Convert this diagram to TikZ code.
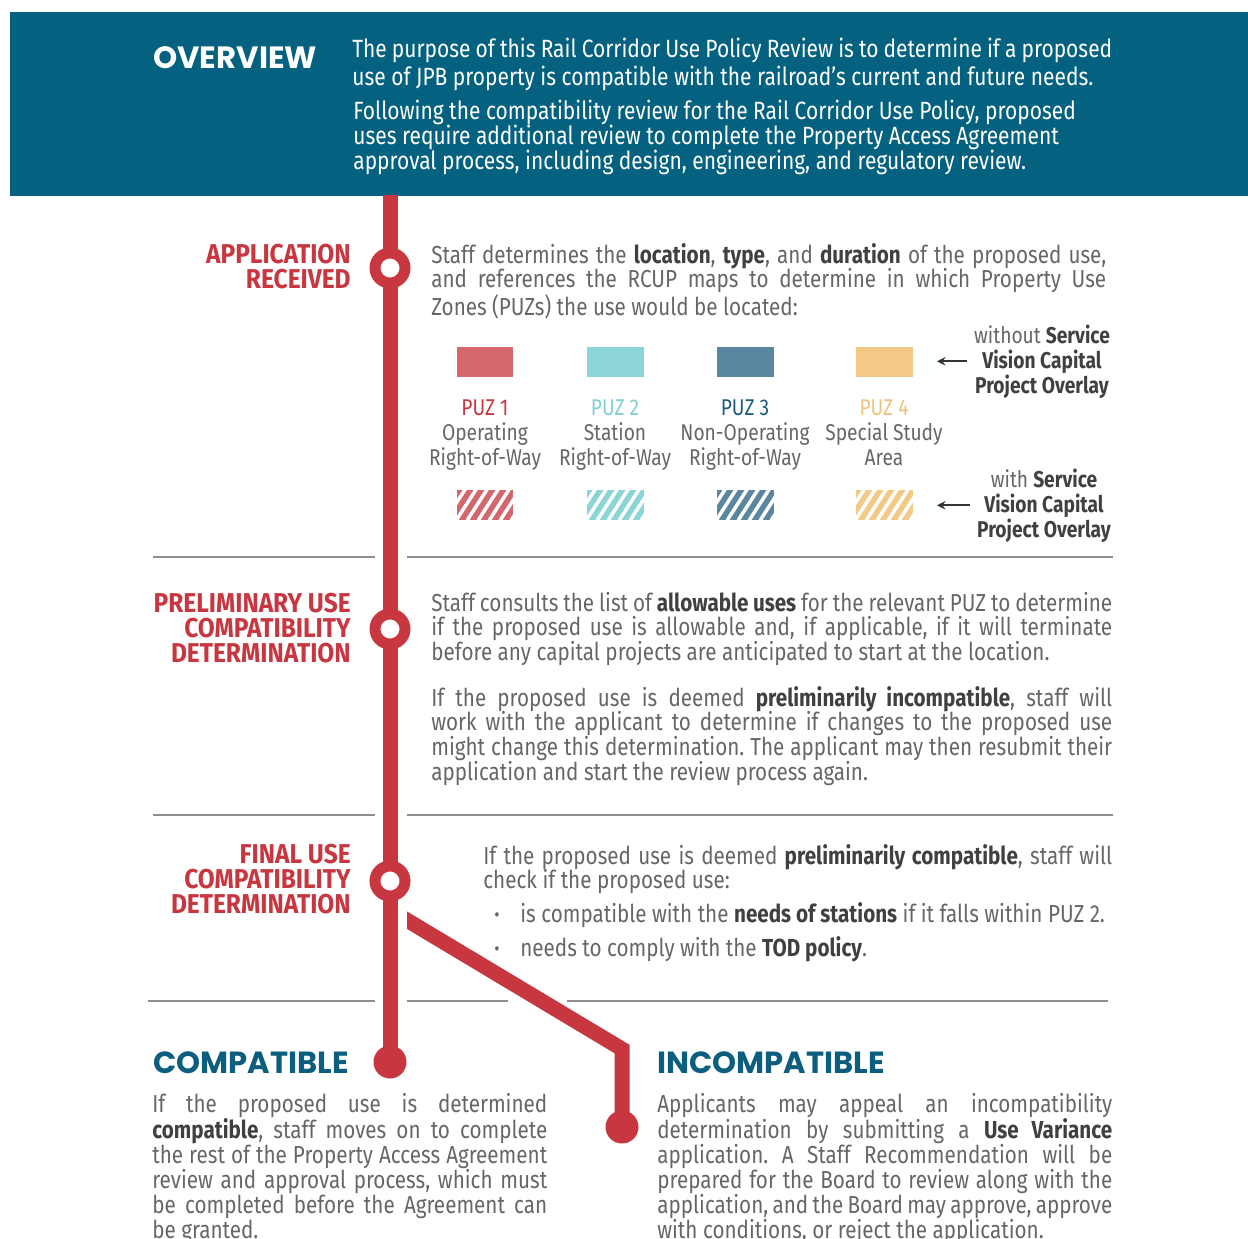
\documentclass[tikz,border=0pt]{standalone}
\usepackage{fontspec}
\setmainfont{Fira Sans}[FakeStretch=0.84]
\newfontfamily\stagefont{Fira Sans}[FakeStretch=0.9]
\newfontfamily\headfont{Poppins}
\definecolor{bandteal}{HTML}{04617F}
\definecolor{headteal}{HTML}{0B5E7D}
\definecolor{railred}{HTML}{C8363F}
\definecolor{bodygray}{HTML}{666666}
\definecolor{boldgray}{HTML}{404040}
\definecolor{sepgray}{HTML}{8F8F8F}
\definecolor{puz1}{HTML}{D4666D}
\definecolor{puz2}{HTML}{8BD5D9}
\definecolor{puz3}{HTML}{5A879F}
\definecolor{puz4}{HTML}{F2CA85}
\definecolor{puz1text}{HTML}{C8363F}
\definecolor{puz2text}{HTML}{7ECFD4}
\definecolor{puz3text}{HTML}{1D5D7C}
\definecolor{puz4text}{HTML}{F0C37C}
\usetikzlibrary{arrows, positioning}
\frenchspacing
\lineskiplimit=-10pt

\begin{document}
\begin{tikzpicture}[x=0.02cm, y=-0.02cm,
	rail/.style={railred, line width=0.3cm, line join=miter},
	ring/.style={circle, draw=railred, fill=white, line width=0.22cm, minimum size=0.6cm, inner sep=0pt},
	enddot/.style={circle, fill=railred, minimum size=0.66cm, inner sep=0pt},
	sep/.style={sepgray, line width=0.05cm},
	body/.style={text=bodygray, inner sep=0pt, font=\fontsize{14}{14.2}\selectfont},
	legend/.style={body, anchor=base, align=center, font=\fontsize{13}{14.2}\selectfont},
	stage/.style={text=railred, inner sep=0pt, align=right, anchor=base east, font=\stagefont\fontsize{15.5}{14.2}\selectfont\bfseries},
	outcome/.style={text=headteal, inner sep=0pt, anchor=base west, font=\headfont\fontsize{17.4}{20}\selectfont\bfseries},
	swatch/.style={minimum width=1.14cm, minimum height=0.6cm, inner sep=0pt},
	stripe/.style={white, line width=0.07cm},
	legend arrow/.style={->, >=stealth, black!80, line width=0.04cm}]

\newcommand{\hl}[1]{{\bfseries\color{boldgray}#1}}

\useasboundingbox (0,0) rectangle (1248,1238);

% overview band
\fill[bandteal] (10,12) rectangle (1248,196);
\node[anchor=base west, inner sep=0pt, text=white, font=\headfont\fontsize{17.5}{20}\selectfont\bfseries] (overview) at (153,68) {OVERVIEW};
\node[anchor=base west, inner sep=0pt, text=white, text width=15.2cm, align=justify, font=\fontsize{14.2}{16.5}\selectfont] (purpose) at (352,57)
	{\parfillskip=0pt The purpose of this Rail Corridor Use Policy Review is to determine if a proposed\linebreak use of JPB property is compatible with the railroad's current and future needs.};
\node[anchor=base west, inner sep=0pt, text=white, align=left, font=\fontsize{14.2}{14.2}\selectfont] (following) at (353,169)
	{Following the compatibility review for the Rail Corridor Use Policy, proposed\\uses require additional review to complete the Property Access Agreement\\approval process, including design, engineering, and regulatory review.};

% separators
\foreach \y in {557, 815} {
	\draw[sep] (153,\y) -- (375,\y);
	\draw[sep] (407,\y) -- (1113,\y);
}
\draw[sep] (148,1001) -- (375,1001);
\draw[sep] (407,1001) -- (508,1001);
\draw[sep] (567,1001) -- (1108,1001);

% rail
\coordinate (rail top) at (390,195);
\coordinate (branch start) at (395,913);
\coordinate (branch bend) at (622,1049);
\node[enddot] (compat dot) at (390,1062) {};
\node[enddot] (incompat dot) at (622,1127) {};
\draw[rail] (rail top) -- (compat dot.center);
\begin{scope}
	\clip (407,880) rectangle (700,1140);
	\draw[rail] (branch start) -- (branch bend) -- (incompat dot.center);
\end{scope}
\node[ring] (app ring) at (390,268) {};
\node[ring] (prelim ring) at (390,629) {};
\node[ring] (final ring) at (390,881) {};

% stage headings (base = last line)
\node[stage] (app head) at (351,288) {APPLICATION\\RECEIVED};
\node[stage] (prelim head) at (351,662) {PRELIMINARY USE\\COMPATIBILITY\\DETERMINATION};
\node[stage] (final head) at (351,913) {FINAL USE\\COMPATIBILITY\\DETERMINATION};

% application received
\node[body, anchor=base west, text width=13.5cm, align=justify] (app text) at (431,263)
	{Staff determines the \hl{location}, \hl{type}, and \hl{duration} of the proposed use,\linebreak and references the RCUP maps to determine in which Property Use\linebreak Zones (PUZs) the use would be located:};

\foreach \xc/\num/\lineA/\lineB in {485/1/Operating/Right-of-Way, 615/2/Station/Right-of-Way, 745/3/Non-Operating/Right-of-Way, 884/4/Special Study/Area} {
	\node[swatch, fill=puz\num] (plain \num) at (\xc,362) {};
	\node[legend] (label \num) at (\xc,465) {\textcolor{puz\num text}{PUZ \num}\\\lineA\\\lineB};
	\node[swatch, fill=puz\num] (hatch \num) at (\xc,505) {};
	\begin{scope}
		\clip (hatch \num.south west) rectangle (hatch \num.north east);
		\foreach \s in {-22,-11,...,66}
			\draw[stripe] ([xshift=\s*0.02cm]hatch \num.south west) -- ++(20,-31);
	\end{scope}
}

\node[legend] (without) at (1042,393) {without \hl{Service}\\\hl{Vision Capital}\\\hl{Project Overlay}};
\node[legend] (with) at (1044,537) {with \hl{Service}\\\hl{Vision Capital}\\\hl{Project Overlay}};
\coordinate (without tip) at (937,362);
\coordinate (with tip) at (937,506);
\draw[legend arrow] ([xshift=-0.14cm]without.west) -- (without.west -| without tip);
\draw[legend arrow] ([xshift=-0.14cm]with.west) -- (with.west -| with tip);

% preliminary use
\node[body, anchor=base west, text width=13.62cm, align=justify] (prelim text) at (431,611)
	{Staff consults the list of \hl{allowable uses} for the relevant PUZ to determine\linebreak if the proposed use is allowable and, if applicable, if it will terminate\linebreak before any capital projects are anticipated to start at the location.};
\node[body, anchor=base west, text width=13.62cm, align=justify] (prelim more) at (431,706)
	{If the proposed use is deemed \hl{preliminarily incompatible}, staff will\linebreak work with the applicant to determine if changes to the proposed use\linebreak might change this determination. The applicant may then resubmit their\linebreak application and start the review process again.};

% final use
\node[body, anchor=base west, text width=12.58cm, align=justify] (final text) at (483,864)
	{If the proposed use is deemed \hl{preliminarily compatible}, staff will\linebreak check if the proposed use:};
\node[body, anchor=base, font=\fontsize{11}{10}\selectfont] (bullet a) at (497,921) {\textbullet};
\node[body, anchor=base west] (item a) at (520,922) {is compatible with the \hl{needs of stations} if it falls within PUZ 2.};
\node[body, anchor=base, font=\fontsize{11}{10}\selectfont] (bullet b) at (497,955) {\textbullet};
\node[body, anchor=base west] (item b) at (520,956) {needs to comply with the \hl{TOD policy}.};

% outcomes
\node[outcome] (compat head) at (153,1073) {COMPATIBLE};
\node[body, anchor=base west, text width=7.9cm, align=justify] (compat text) at (152,1112)
	{If the proposed use is determined\linebreak \hl{compatible}, staff moves on to complete\linebreak the rest of the Property Access Agreement\linebreak review and approval process, which must\linebreak be completed before the Agreement can\linebreak be granted.};
\node[outcome] (incompat head) at (657,1073) {INCOMPATIBLE};
\node[body, anchor=base west, text width=9.1cm, align=justify] (incompat text) at (657,1112)
	{Applicants may appeal an incompatibility\linebreak determination by submitting a \hl{Use Variance}\linebreak application. A Staff Recommendation will be\linebreak prepared for the Board to review along with the\linebreak application, and the Board may approve, approve\linebreak with conditions, or reject the application.};

\end{tikzpicture}
\end{document}
